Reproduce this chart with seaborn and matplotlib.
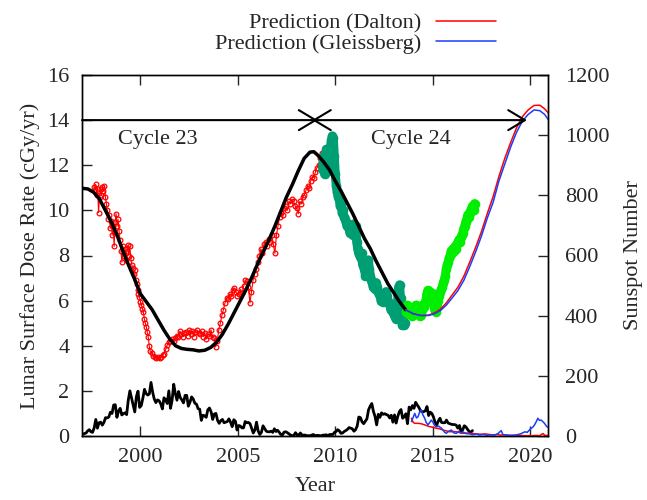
import numpy as np
import pandas as pd
import matplotlib
matplotlib.use("Agg")
import matplotlib.pyplot as plt
import seaborn as sns

# ---------------- data ----------------
# Measured lunar surface dose rate (cGy/yr), earlier instrument record
dose_red_year = [1997.60, 1997.65, 1997.70, 1997.75, 1997.80, 1997.85, 1997.90, 1997.95, 1998.00, 1998.05,
                 1998.10, 1998.15, 1998.20, 1998.25, 1998.30, 1998.35, 1998.40, 1998.45, 1998.50, 1998.55,
                 1998.60, 1998.65, 1998.70, 1998.75, 1998.80, 1998.85, 1998.90, 1998.95, 1999.00, 1999.05,
                 1999.10, 1999.15, 1999.20, 1999.25, 1999.30, 1999.35, 1999.40, 1999.45, 1999.50, 1999.55,
                 1999.60, 1999.65, 1999.70, 1999.75, 1999.80, 1999.85, 1999.90, 1999.95, 2000.00, 2000.05,
                 2000.10, 2000.15, 2000.20, 2000.25, 2000.30, 2000.35, 2000.40, 2000.45, 2000.50, 2000.58,
                 2000.66, 2000.74, 2000.82, 2000.90, 2000.98, 2001.06, 2001.14, 2001.22, 2001.30, 2001.38,
                 2001.46, 2001.54, 2001.62, 2001.70, 2001.78, 2001.86, 2001.94, 2002.02, 2002.10, 2002.18,
                 2002.26, 2002.34, 2002.42, 2002.50, 2002.58, 2002.66, 2002.74, 2002.82, 2002.90, 2002.98,
                 2003.06, 2003.14, 2003.22, 2003.30, 2003.38, 2003.46, 2003.54, 2003.62, 2003.70, 2003.78,
                 2003.86, 2003.94, 2004.02, 2004.10, 2004.18, 2004.26, 2004.34, 2004.42, 2004.50, 2004.58,
                 2004.66, 2004.74, 2004.82, 2004.90, 2004.98, 2005.06, 2005.14, 2005.22, 2005.30, 2005.38,
                 2005.46, 2005.54, 2005.62, 2005.70, 2005.78, 2005.86, 2005.94, 2006.02, 2006.10, 2006.18,
                 2006.26, 2006.34, 2006.42, 2006.50, 2006.58, 2006.66, 2006.74, 2006.82, 2006.90, 2006.98,
                 2007.06, 2007.14, 2007.22, 2007.30, 2007.38, 2007.46, 2007.54, 2007.62, 2007.70, 2007.78,
                 2007.86, 2007.94, 2008.02, 2008.10, 2008.18, 2008.26, 2008.34, 2008.42, 2008.50, 2008.58,
                 2008.66, 2008.74, 2008.82, 2008.90, 2008.98, 2009.06, 2009.14, 2009.22, 2009.30]
dose_red = [11.05, 10.90, 11.15, 10.70, 10.95, 9.90, 10.60, 10.95, 10.70, 11.05,
            10.85, 11.10, 10.60, 10.30, 10.00, 9.60, 9.80, 9.20, 9.55, 8.90,
            9.30, 8.40, 9.50, 9.85, 9.30, 9.60, 9.10, 8.70, 8.20, 7.70,
            8.40, 8.00, 8.30, 7.80, 8.20, 8.45, 8.00, 8.40, 7.90, 7.60,
            7.45, 7.20, 7.35, 6.90, 6.75, 6.45, 6.30, 6.15, 5.95, 5.80,
            5.65, 5.50, 5.20, 5.00, 4.85, 4.60, 4.40, 4.00, 3.75, 3.70,
            3.55, 3.50, 3.45, 3.50, 3.45, 3.50, 3.60, 3.65, 3.85, 4.05,
            4.15, 4.20, 4.30, 4.20, 4.35, 4.45, 4.40, 4.65, 4.50, 4.40,
            4.55, 4.60, 4.45, 4.70, 4.50, 4.65, 4.40, 4.60, 4.70, 4.55,
            4.50, 4.65, 4.40, 4.55, 4.30, 4.50, 4.45, 4.70, 4.40, 4.35,
            3.95, 4.20, 4.70, 5.00, 5.35, 5.60, 5.90, 6.10, 6.05, 6.30,
            6.20, 6.45, 6.55, 6.40, 6.20, 6.30, 6.50, 6.35, 6.65, 6.90,
            6.85, 6.60, 5.90, 6.40, 6.90, 7.20, 7.40, 7.70, 8.00, 8.30,
            8.10, 8.50, 8.60, 8.40, 8.75, 8.60, 8.90, 8.50, 8.10, 8.90,
            9.30, 9.70, 9.90, 9.80, 10.10, 10.20, 10.00, 10.40, 10.30, 10.50,
            10.40, 10.20, 10.10, 9.85, 10.40, 10.30, 10.60, 10.70, 10.90, 11.10,
            11.00, 11.30, 11.50, 11.45, 11.70, 11.90, 12.00, 12.30, 12.55]

# Measured dose rate, later instrument record (cycle 24 decline)
dose_teal_year = [2009.35, 2009.40, 2009.45, 2009.50, 2009.55, 2009.60, 2009.65, 2009.70, 2009.75, 2009.80,
                  2009.85, 2009.90, 2009.95, 2010.00, 2010.05, 2010.10, 2010.15, 2010.20, 2010.25, 2010.30,
                  2010.35, 2010.40, 2010.45, 2010.50, 2010.55, 2010.60, 2010.65, 2010.70, 2010.75, 2010.80,
                  2010.85, 2010.90, 2010.95, 2011.00, 2011.05, 2011.10, 2011.15, 2011.20, 2011.25, 2011.30,
                  2011.35, 2011.40, 2011.45, 2011.50, 2011.55, 2011.60, 2011.65, 2011.70, 2011.75, 2011.80,
                  2011.85, 2011.90, 2011.95, 2012.00, 2012.05, 2012.10, 2012.15, 2012.20, 2012.25, 2012.30,
                  2012.35, 2012.40, 2012.45, 2012.50, 2012.55, 2012.60, 2012.65, 2012.70, 2012.75, 2012.80,
                  2012.85, 2012.90, 2012.95, 2013.00, 2013.05, 2013.10, 2013.15, 2013.20, 2013.25, 2013.30,
                  2013.35, 2013.40, 2013.45, 2013.50, 2013.55, 2013.60]
dose_teal = [11.80, 12.40, 11.60, 12.10, 12.70, 12.20, 12.50, 12.00, 12.80, 13.10,
             13.30, 13.20, 12.40, 11.60, 11.10, 10.80, 10.60, 10.50, 10.20, 10.30,
             9.90, 10.00, 9.70, 9.60, 9.50, 9.30, 9.40, 9.20, 9.00, 9.10,
             9.30, 8.90, 9.40, 9.20, 9.30, 8.60, 8.30, 8.10, 8.00, 7.90,
             8.10, 7.60, 7.50, 7.40, 7.10, 7.30, 7.60, 7.80, 7.40, 7.10,
             6.90, 6.80, 6.60, 6.70, 6.50, 6.80, 6.60, 6.40, 6.30, 6.20,
             6.00, 6.10, 5.95, 6.10, 6.30, 6.40, 6.20, 6.00, 5.90, 5.80,
             5.60, 5.70, 5.50, 5.40, 5.30, 5.20, 5.50, 6.00, 6.60, 6.70,
             6.10, 5.20, 4.90, 5.10, 4.90, 5.00]

# Measured dose rate, most recent record (cycle 24 rise)
dose_green_year = [2013.65, 2013.70, 2013.75, 2013.80, 2013.85, 2013.90, 2013.95, 2014.00, 2014.05, 2014.10,
                   2014.15, 2014.20, 2014.25, 2014.30, 2014.35, 2014.40, 2014.45, 2014.50, 2014.55, 2014.60,
                   2014.65, 2014.70, 2014.75, 2014.80, 2014.85, 2014.90, 2014.95, 2015.00, 2015.05, 2015.10,
                   2015.15, 2015.20, 2015.25, 2015.30, 2015.35, 2015.40, 2015.45, 2015.50, 2015.55, 2015.60,
                   2015.65, 2015.70, 2015.75, 2015.80, 2015.85, 2015.90, 2015.95, 2016.00, 2016.05, 2016.10,
                   2016.15, 2016.20, 2016.25, 2016.30, 2016.35, 2016.40, 2016.45, 2016.50, 2016.55, 2016.60,
                   2016.65, 2016.70, 2016.75, 2016.80, 2016.85, 2016.90, 2016.95, 2017.00, 2017.05, 2017.10,
                   2017.15]
dose_green = [5.50, 5.80, 5.60, 5.40, 5.70, 5.50, 5.30, 5.40, 5.60, 5.70,
              5.80, 5.60, 5.75, 5.50, 5.30, 5.35, 5.60, 5.80, 5.70, 5.90,
              6.00, 6.30, 6.45, 6.40, 6.30, 6.20, 6.35, 6.10, 5.80, 5.60,
              5.50, 5.70, 6.00, 6.20, 6.30, 6.40, 6.50, 6.60, 6.80, 6.90,
              7.10, 7.40, 7.60, 7.70, 7.90, 8.00, 8.20, 8.10, 8.30, 8.20,
              8.40, 8.30, 8.50, 8.60, 8.70, 8.60, 8.80, 8.90, 9.00, 9.20,
              9.30, 9.50, 9.60, 9.80, 9.70, 9.90, 10.00, 10.10, 10.20, 10.00,
              10.30]

# Model dose rate through cycles 23 and 24
model_year = [1997.0, 1997.3, 1997.6, 1997.9, 1998.2, 1998.5, 1998.8, 1999.1, 1999.4, 1999.7,
              2000.0, 2000.3, 2000.6, 2000.9, 2001.2, 2001.5, 2001.8, 2002.1, 2002.4, 2002.7,
              2003.0, 2003.3, 2003.6, 2003.9, 2004.2, 2004.5, 2004.8, 2005.1, 2005.4, 2005.7,
              2006.0, 2006.3, 2006.6, 2006.9, 2007.2, 2007.5, 2007.8, 2008.1, 2008.4, 2008.7,
              2008.9, 2009.1, 2009.4, 2009.7, 2010.0, 2010.3, 2010.6, 2010.9, 2011.2, 2011.5,
              2011.8, 2012.1, 2012.4, 2012.7, 2013.0, 2013.3, 2013.6]
model_dose = [10.98, 10.95, 10.80, 10.50, 10.00, 9.50, 8.90, 8.20, 7.55, 6.95,
              6.30, 5.95, 5.60, 5.15, 4.70, 4.30, 4.00, 3.88, 3.84, 3.82,
              3.77, 3.80, 3.92, 4.15, 4.50, 4.95, 5.45, 5.95, 6.45, 7.00,
              7.60, 8.15, 8.70, 9.30, 9.95, 10.60, 11.15, 11.75, 12.30, 12.58,
              12.60, 12.45, 12.15, 11.80, 11.30, 10.85, 10.35, 9.85, 9.30, 8.75,
              8.30, 7.75, 7.25, 6.75, 6.35, 5.95, 5.60]

# Predicted dose rate for two solar-minimum scenarios
pred_year = [2013.6, 2014.0, 2014.4, 2014.8, 2015.1, 2015.4, 2015.7, 2016.0, 2016.3, 2016.6,
             2016.9, 2017.2, 2017.5, 2017.8, 2018.1, 2018.4, 2018.7, 2019.0, 2019.3, 2019.6,
             2019.9, 2020.2, 2020.5, 2020.75, 2020.95]
pred_dose_dalton = [5.60, 5.42, 5.34, 5.36, 5.46, 5.62, 5.90, 6.25, 6.60, 7.08,
                    7.70, 8.35, 9.05, 9.85, 10.60, 11.50, 12.30, 13.00, 13.65, 14.15,
                    14.45, 14.65, 14.66, 14.50, 14.30]
pred_dose_gleissberg = [5.60, 5.42, 5.34, 5.34, 5.42, 5.56, 5.80, 6.12, 6.45, 6.90,
                        7.50, 8.15, 8.85, 9.65, 10.35, 11.30, 12.05, 12.80, 13.45, 13.95,
                        14.25, 14.45, 14.42, 14.25, 14.00]

# Monthly sunspot number, Jan 1997 onwards
ssn_start = 1997.0
ssn_monthly = [6, 8, 10, 17, 21, 14, 12, 27, 55, 26, 44, 46,
               36, 45, 61, 60, 63, 79, 75, 103, 104, 62, 83, 92,
               70, 74, 77, 71, 119, 150, 127, 105, 80, 131, 149, 95,
               101, 126, 155, 141, 136, 140, 178, 146, 123, 111, 120, 117,
               107, 90, 127, 121, 108, 150, 92, 119, 172, 141, 119, 148,
               128, 120, 110, 135, 135, 99, 112, 130, 123, 109, 106, 91,
               89, 52, 69, 67, 62, 87, 93, 81, 55, 73, 75, 52,
               42, 51, 55, 44, 46, 48, 57, 46, 31, 54, 49, 20,
               35, 33, 27, 27, 48, 44, 45, 41, 25, 10, 20, 46,
               17, 5, 12, 34, 25, 16, 14, 14, 16, 12, 24, 15,
               19, 12, 5, 4, 13, 14, 11, 7, 3, 1, 2, 11,
               4, 2, 10, 3, 3, 3, 1, 1, 1, 3, 5, 1,
               2, 2, 1, 1, 3, 3, 4, 0, 5, 5, 5, 12,
               15, 21, 17, 9, 10, 15, 18, 22, 28, 26, 24, 16,
               21, 33, 63, 61, 47, 41, 49, 57, 87, 99, 108, 82,
               65, 37, 72, 62, 77, 72, 74, 71, 69, 60, 69, 46,
               70, 43, 65, 81, 88, 59, 64, 74, 41, 96, 87, 101,
               92, 112, 103, 95, 84, 80, 81, 84, 98, 68, 79, 75,
               63, 45, 37, 50, 59, 45, 44, 44, 53, 43, 41, 39,
               38, 38, 36, 26, 35, 13, 21, 34, 30, 22, 15, 12,
               18]

# Predicted sunspot number, Dalton-like minimum
ssn_dalton_year = [2013.91, 2014.00, 2014.10, 2014.30, 2014.45, 2014.59, 2014.75, 2014.85, 2015.00, 2015.19,
                   2015.35, 2015.53, 2015.70, 2015.87, 2016.05, 2016.22, 2016.40, 2016.55, 2016.75, 2016.90,
                   2017.10, 2017.24, 2017.50, 2017.70, 2017.90, 2018.10, 2018.30, 2018.50, 2018.70, 2018.90,
                   2019.10, 2019.30, 2019.50, 2019.70, 2019.90, 2020.10, 2020.30, 2020.50, 2020.60, 2020.68,
                   2020.75, 2020.95]
ssn_dalton = [59, 45, 42, 42, 40, 37, 33, 31, 29, 26,
              24, 20, 17, 14, 15, 14, 11, 9, 10, 9,
              8, 7, 6, 7, 5, 4, 5, 3, 4, 2,
              2, 1, 2, 1, 1, 1, 2, 1, 6, 8,
              2, 2]

# Predicted sunspot number, Gleissberg-like minimum
ssn_gleiss_year = [2013.91, 2014.00, 2014.08, 2014.17, 2014.25, 2014.33, 2014.42, 2014.50, 2014.59, 2014.67,
                   2014.76, 2014.85, 2014.93, 2015.02, 2015.10, 2015.19, 2015.30, 2015.45, 2015.55, 2015.62,
                   2015.70, 2015.80, 2015.96, 2016.05, 2016.15, 2016.22, 2016.35, 2016.45, 2016.55, 2016.70,
                   2016.90, 2017.05, 2017.24, 2017.40, 2017.60, 2017.80, 2018.00, 2018.20, 2018.35, 2018.52,
                   2018.60, 2018.80, 2019.00, 2019.20, 2019.40, 2019.55, 2019.63, 2019.75, 2019.85, 2019.97,
                   2020.05, 2020.15, 2020.23, 2020.32, 2020.40, 2020.48, 2020.57, 2020.65, 2020.74, 2020.86,
                   2020.95]
ssn_gleiss = [48, 62, 75, 60, 64, 80, 87, 70, 59, 45,
              37, 45, 53, 45, 35, 31, 33, 26, 18, 12,
              9, 15, 20, 12, 9, 9, 16, 10, 14, 8,
              7, 4, 7, 3, 5, 2, 4, 3, 8, 18,
              5, 3, 2, 3, 5, 8, 11, 14, 12, 20,
              25, 30, 37, 48, 59, 52, 53, 48, 42, 31,
              28]

cycle_labels = ["Cycle 23", "Cycle 24"]
cycle_bounds = [1997.0, 2008.95, 2019.84]

# ---------------- styling ----------------
sns.set_style("ticks")
plt.rcParams["font.family"] = ["Liberation Serif", "DejaVu Serif"]
plt.rcParams["font.size"] = 16
FS = 16

RED = "#ff0000"
BLUE = "#1a3cff"
TEAL = "#009e73"
GREEN = "#00ee00"

fig = plt.figure(figsize=(6.47, 5.0), dpi=100)
ax = fig.add_axes([82 / 647, 1 - 436 / 500, (548 - 82) / 647, (436 - 75) / 500])
ax2 = ax.twinx()

# measured dose rates
sns.lineplot(x=dose_red_year, y=dose_red, ax=ax, sort=False, estimator=None,
             color=RED, lw=0.8, marker="o", markersize=3.4, markerfacecolor="none",
             markeredgecolor=RED, markeredgewidth=0.9, zorder=2)
sns.lineplot(x=dose_teal_year, y=dose_teal, ax=ax, sort=False, estimator=None,
             color=TEAL, lw=6.5, zorder=2)
sns.scatterplot(x=dose_teal_year, y=dose_teal, ax=ax, color=TEAL, s=48,
                linewidth=0, zorder=2)
sns.lineplot(x=dose_green_year, y=dose_green, ax=ax, sort=False, estimator=None,
             color=GREEN, lw=6.5, zorder=2)
sns.scatterplot(x=dose_green_year, y=dose_green, ax=ax, color=GREEN, s=48,
                linewidth=0, zorder=2)

# model and predictions
sns.lineplot(x=model_year, y=model_dose, ax=ax, sort=False, estimator=None,
             color="black", lw=2.5, zorder=4)
sns.lineplot(x=pred_year, y=pred_dose_dalton, ax=ax, sort=False, estimator=None,
             color=RED, lw=1.1, zorder=5, label="Prediction (Dalton)")
sns.lineplot(x=pred_year, y=pred_dose_gleissberg, ax=ax, sort=False, estimator=None,
             color=BLUE, lw=1.1, zorder=5, label="Prediction (Gleissberg)")

# sunspot numbers on the secondary axis
ssn_year = ssn_start + (np.arange(len(ssn_monthly)) + 0.5) / 12.0
sns.lineplot(x=ssn_year, y=ssn_monthly, ax=ax2, sort=False, estimator=None,
             color="black", lw=2.0)
sns.lineplot(x=ssn_dalton_year, y=ssn_dalton, ax=ax2, sort=False, estimator=None,
             color=RED, lw=1.1)
sns.lineplot(x=ssn_gleiss_year, y=ssn_gleiss, ax=ax2, sort=False, estimator=None,
             color=BLUE, lw=1.1)

# cycle arrows; the two heads at the cycle boundary meet tip to tip
tip_overlap = 0.14
arrow_kw = dict(lw=1.5, color="black", shrinkA=0, shrinkB=0)
ax.annotate("", xy=(cycle_bounds[1] + tip_overlap, 14), xytext=(cycle_bounds[0], 14),
            arrowprops=dict(arrowstyle="->,head_length=0.6,head_width=0.36",
                            mutation_scale=20, **arrow_kw), zorder=6)
ax.annotate("", xy=(cycle_bounds[2], 14), xytext=(cycle_bounds[1] - tip_overlap, 14),
            arrowprops=dict(arrowstyle="<->,head_length=0.6,head_width=0.36",
                            mutation_scale=20, **arrow_kw), zorder=6)
ax.text(2000.9, 13.15, cycle_labels[0], ha="center", va="center", fontsize=FS)
ax.text(2013.9, 13.15, cycle_labels[1], ha="center", va="center", fontsize=FS)

# axes
ax.set_xlim(1997.0, 2020.92)
ax.set_ylim(0, 16)
ax2.set_ylim(0, 1200)
ax.set_xticks([2000, 2005, 2010, 2015, 2020])
ax.set_yticks(np.arange(0, 17, 2))
ax2.set_yticks(np.arange(0, 1201, 200))
ax.tick_params(axis="x", direction="in", length=7, width=1, top=True, pad=9, labelsize=FS)
ax.tick_params(axis="y", direction="in", length=7, width=1, right=False, pad=9, labelsize=FS)
ax2.tick_params(axis="y", direction="in", length=7, width=1, pad=12, labelsize=FS)
ax.set_xlabel("Year", fontsize=FS, labelpad=7)
ax.set_ylabel("Lunar Surface Dose Rate (cGy/yr)", fontsize=FS, labelpad=5)
ax2.set_ylabel("Sunspot Number", fontsize=FS, labelpad=11)
for a in (ax, ax2):
    for s in a.spines.values():
        s.set_linewidth(1.0)
        s.set_color("black")

handles, labels = ax.get_legend_handles_labels()
ax.legend_.remove()
fig.legend(handles, labels, loc="upper right", bbox_to_anchor=(496 / 647, 1 - 13 / 500),
           frameon=False, markerfirst=False, borderpad=0, borderaxespad=0,
           handlelength=2.7, handletextpad=0.65, labelspacing=0.0, fontsize=FS)

fig.savefig("out.png", dpi=100)
